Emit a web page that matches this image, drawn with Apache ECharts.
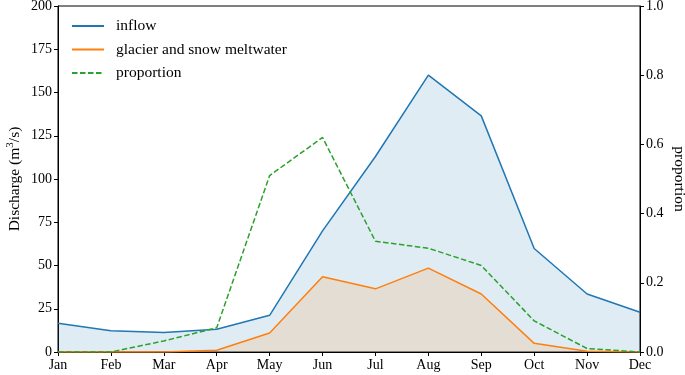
<!DOCTYPE html>
<html>
<head>
<meta charset="utf-8">
<script src="https://cdn.jsdelivr.net/npm/echarts@6/dist/echarts.min.js"></script>
<style>html,body{margin:0;padding:0;background:#fff}#c{width:685px;height:375px}</style>
</head>
<body>
<div id="c"></div>
<script>
var months = ['Jan','Feb','Mar','Apr','May','Jun','Jul','Aug','Sep','Oct','Nov','Dec'];
var inflow = [16.6, 12.3, 11.3, 13.1, 21.2, 70, 113, 160, 136.5, 59.8, 33.5, 23];
var meltwater = [0, 0, 0, 1, 11, 43.5, 36.5, 48.5, 33.5, 5, 0.5, 0];
var proportion = [0, 0, 0.032, 0.07, 0.51, 0.62, 0.32, 0.30, 0.25, 0.09, 0.01, 0];
var leftTicks = [0, 25, 50, 75, 100, 125, 150, 175, 200];
var rightTicks = [0, 0.2, 0.4, 0.6, 0.8, 1.0];

var font = 'Liberation Serif, Times New Roman, serif';
var chart = echarts.init(document.getElementById('c'), null, {renderer: 'canvas'});
chart.setOption({
  animation: false,
  textStyle: {fontFamily: font},
  grid: {left: 58, right: 45, top: 6, bottom: 23, containLabel: false, outerBoundsMode: 'none',
    show: true, borderColor: '#000', borderWidth: 1, backgroundColor: 'transparent'},
  legend: {
    orient: 'vertical', left: 66, top: 13, itemGap: 7.5, itemWidth: 32, itemHeight: 14,
    itemStyle: {opacity: 0},
    textStyle: {fontFamily: font, fontSize: 15.5, color: '#000', padding: [0,0,0,7]},
    data: ['inflow', 'glacier and snow meltwater', 'proportion']
  },
  xAxis: {
    type: 'category', data: months, boundaryGap: false,
    axisLine: {lineStyle: {color: '#000', width: 1}},
    axisTick: {show: true, length: 4, alignWithLabel: true, lineStyle: {color: '#000'}},
    axisLabel: {fontFamily: font, fontSize: 14, color: '#000', margin: 6},
    splitLine: {show: false}
  },
  yAxis: [{
    type: 'value', min: leftTicks[0], max: leftTicks[leftTicks.length-1], interval: 25,
    name: 'Discharge (m{sup|3}/s)', nameLocation: 'middle', nameGap: 34, nameMoveOverlap: false,
    nameTextStyle: {fontFamily: font, fontSize: 15.5, color: '#000',
      rich: {sup: {fontFamily: font, fontSize: 11, verticalAlign: 'bottom', padding: [0,0,8,0], color: '#000'}}},
    axisLine: {show: true, lineStyle: {color: '#000'}},
    axisTick: {show: true, length: 4, lineStyle: {color: '#000'}},
    axisLabel: {fontFamily: font, fontSize: 14, color: '#000', margin: 6},
    splitLine: {show: false}
  }, {
    type: 'value', min: rightTicks[0], max: rightTicks[rightTicks.length-1], interval: 0.2,
    position: 'right',
    name: 'proportion', nameLocation: 'middle', nameGap: 31, nameRotate: -90, nameMoveOverlap: false,
    nameTextStyle: {fontFamily: font, fontSize: 15.5, color: '#000'},
    axisLine: {show: true, lineStyle: {color: '#000'}},
    axisTick: {show: true, length: 4, lineStyle: {color: '#000'}},
    axisLabel: {fontFamily: font, fontSize: 14, color: '#000', margin: 6, formatter: function(v){return v.toFixed(1);}},
    splitLine: {show: false}
  }],
  series: [{
    name: 'inflow', type: 'line', data: inflow, symbol: 'none',
    lineStyle: {color: '#1f77b4', width: 1.5}, itemStyle: {color: '#1f77b4'},
    areaStyle: {color: 'rgba(31,119,180,0.2)', origin: 'start'}, z: 2
  }, {
    name: 'glacier and snow meltwater', type: 'line', data: meltwater, symbol: 'none',
    lineStyle: {color: '#ff7f0e', width: 1.5}, itemStyle: {color: '#ff7f0e'},
    areaStyle: {color: 'rgba(255,127,14,0.2)', origin: 'start'}, z: 3
  }, {
    name: 'proportion', type: 'line', yAxisIndex: 1, data: proportion, symbol: 'none',
    lineStyle: {color: '#2ca02c', width: 1.5, type: [5.5, 2.5]}, itemStyle: {color: '#2ca02c'}, z: 4
  }]
});
</script>
</body>
</html>
